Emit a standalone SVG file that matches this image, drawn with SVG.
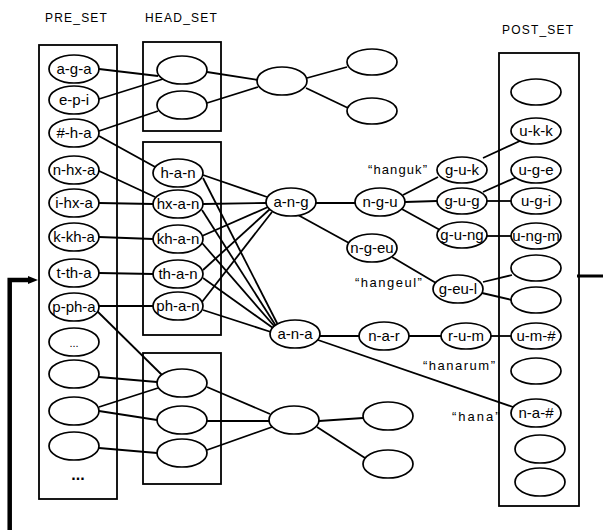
<svg xmlns="http://www.w3.org/2000/svg" width="603" height="530" viewBox="0 0 603 530">
<style>
  .box{fill:none;stroke:#000;stroke-width:1.8}
  .n{fill:#fff;stroke:#000;stroke-width:1.7}
  .c line{stroke:#000;stroke-width:1.8}
  .t{font-family:"Liberation Sans",Arial,sans-serif;font-size:15px;text-anchor:middle;fill:#000}
  .h{font-family:"Liberation Sans",Arial,sans-serif;font-size:12px;letter-spacing:1.2px;fill:#000}
  .q{font-family:"Liberation Sans",Arial,sans-serif;font-size:13px;fill:#000}
</style>
<rect width="603" height="530" fill="#fff"/>
<g id="titles">
  <text class="h" x="45" y="22">PRE_SET</text>
  <text class="h" x="145" y="22">HEAD_SET</text>
  <text class="h" x="502" y="34">POST_SET</text>
</g>
<g id="boxes">
  <rect class="box" x="39" y="45" width="78" height="454"/>
  <rect class="box" x="143" y="42" width="78" height="89"/>
  <rect class="box" x="143" y="142" width="78" height="193"/>
  <rect class="box" x="143" y="353" width="78" height="131"/>
  <rect class="box" x="499" y="53" width="80" height="453"/>
</g>
<g id="connectors" class="c">
  <line x1="99" y1="69" x2="158" y2="76"/>
  <line x1="99" y1="99" x2="163" y2="79"/>
  <line x1="99" y1="131" x2="158" y2="111"/>
  <line x1="99" y1="136" x2="157" y2="168"/>
  <line x1="207" y1="72" x2="258" y2="80"/>
  <line x1="207" y1="103" x2="258" y2="87"/>
  <line x1="307" y1="78" x2="347" y2="67"/>
  <line x1="306" y1="88" x2="348" y2="108"/>
  <line x1="97" y1="170" x2="155" y2="197"/>
  <line x1="99" y1="203" x2="153" y2="204"/>
  <line x1="99" y1="237" x2="153" y2="239"/>
  <line x1="99" y1="273" x2="153" y2="274"/>
  <line x1="99" y1="306" x2="153" y2="306"/>
  <line x1="95" y1="309" x2="162" y2="375"/>
  <line x1="99" y1="377" x2="157" y2="382"/>
  <line x1="99" y1="407" x2="158" y2="388"/>
  <line x1="99" y1="411" x2="157" y2="420"/>
  <line x1="99" y1="448" x2="157" y2="453"/>
  <line x1="207" y1="387" x2="270" y2="414"/>
  <line x1="207" y1="421" x2="270" y2="421"/>
  <line x1="207" y1="450" x2="272" y2="427"/>
  <line x1="319" y1="421" x2="363" y2="418"/>
  <line x1="317" y1="427" x2="365" y2="458"/>
  <line x1="203" y1="175" x2="267" y2="197"/>
  <line x1="203" y1="178" x2="278" y2="325"/>
  <line x1="203" y1="204" x2="266" y2="203"/>
  <line x1="202" y1="210" x2="276" y2="326"/>
  <line x1="202" y1="236" x2="268" y2="207"/>
  <line x1="202" y1="243" x2="275" y2="327"/>
  <line x1="203" y1="270" x2="270" y2="209"/>
  <line x1="203" y1="278" x2="273" y2="328"/>
  <line x1="202" y1="302" x2="272" y2="212"/>
  <line x1="203" y1="310" x2="271" y2="332"/>
  <line x1="316" y1="203" x2="355" y2="203"/>
  <line x1="298" y1="215" x2="349" y2="243"/>
  <line x1="403" y1="195" x2="438" y2="177"/>
  <line x1="405" y1="202" x2="437" y2="201"/>
  <line x1="400" y1="208" x2="440" y2="230"/>
  <line x1="483" y1="158" x2="522" y2="140"/>
  <line x1="483" y1="192" x2="517" y2="177"/>
  <line x1="487" y1="201" x2="512" y2="201"/>
  <line x1="487" y1="236" x2="512" y2="236"/>
  <line x1="392" y1="257" x2="436" y2="283"/>
  <line x1="483" y1="282" x2="512" y2="275"/>
  <line x1="482" y1="293" x2="512" y2="300"/>
  <line x1="320" y1="336" x2="359" y2="336"/>
  <line x1="408" y1="336" x2="442" y2="336"/>
  <line x1="491" y1="336" x2="512" y2="336"/>
  <line x1="318" y1="340" x2="513" y2="407"/>
</g>
<g id="feedback">
  <polyline points="9.7,530 9.7,280 30,280" fill="none" stroke="#000" stroke-width="4.5"/>
  <polygon points="28,276 38,280 28,284" fill="#000"/>
  <line x1="577" y1="276" x2="603" y2="276" stroke="#000" stroke-width="3"/>
</g>
<g id="pre-a-g-a"><ellipse class="n" cx="74" cy="69" rx="25" ry="14"/><text class="t" x="74" y="74">a-g-a</text></g>
<g id="pre-e-p-i"><ellipse class="n" cx="74" cy="100" rx="25" ry="14"/><text class="t" x="74" y="105">e-p-i</text></g>
<g id="pre-h-a"><ellipse class="n" cx="74" cy="133" rx="25" ry="14"/><text class="t" x="74" y="138">#-h-a</text></g>
<g id="pre-n-hx-a"><ellipse class="n" cx="74" cy="170" rx="25" ry="14"/><text class="t" x="74" y="175">n-hx-a</text></g>
<g id="pre-i-hx-a"><ellipse class="n" cx="74" cy="203" rx="25" ry="14"/><text class="t" x="74" y="208">i-hx-a</text></g>
<g id="pre-k-kh-a"><ellipse class="n" cx="74" cy="237" rx="25" ry="14"/><text class="t" x="74" y="242">k-kh-a</text></g>
<g id="pre-t-th-a"><ellipse class="n" cx="74" cy="273" rx="25" ry="14"/><text class="t" x="74" y="278">t-th-a</text></g>
<g id="pre-p-ph-a"><ellipse class="n" cx="74" cy="307" rx="25" ry="14"/><text class="t" x="74" y="312">p-ph-a</text></g>
<g id="pre-dots"><ellipse class="n" cx="74" cy="342" rx="25" ry="14"/><text class="t" x="74" y="347" style="font-size:11px">...</text></g>
<g id="pre-blank1"><ellipse class="n" cx="74" cy="374" rx="25" ry="14"/></g>
<g id="pre-blank2"><ellipse class="n" cx="74" cy="411" rx="25" ry="14"/></g>
<g id="pre-blank3"><ellipse class="n" cx="74" cy="446" rx="25" ry="14"/></g>
<g id="pre-more"><text class="t" x="78" y="480" style="font-size:16px;font-weight:bold">...</text></g>
<g id="head-top1"><ellipse class="n" cx="182" cy="70" rx="25" ry="14"/></g>
<g id="head-top2"><ellipse class="n" cx="182" cy="105" rx="25" ry="14"/></g>
<g id="head-h-a-n"><ellipse class="n" cx="178" cy="173" rx="25" ry="14"/><text class="t" x="178" y="178">h-a-n</text></g>
<g id="head-hx-a-n"><ellipse class="n" cx="178" cy="204" rx="25" ry="14"/><text class="t" x="178" y="209">hx-a-n</text></g>
<g id="head-kh-a-n"><ellipse class="n" cx="178" cy="239" rx="25" ry="14"/><text class="t" x="178" y="244">kh-a-n</text></g>
<g id="head-th-a-n"><ellipse class="n" cx="178" cy="274" rx="25" ry="14"/><text class="t" x="178" y="279">th-a-n</text></g>
<g id="head-ph-a-n"><ellipse class="n" cx="178" cy="306" rx="25" ry="14"/><text class="t" x="178" y="311">ph-a-n</text></g>
<g id="head-bot1"><ellipse class="n" cx="182" cy="383" rx="25" ry="14"/></g>
<g id="head-bot2"><ellipse class="n" cx="182" cy="420" rx="25" ry="14"/></g>
<g id="head-bot3"><ellipse class="n" cx="182" cy="453" rx="25" ry="14"/></g>
<g id="mid-top"><ellipse class="n" cx="282" cy="81" rx="25" ry="14"/></g>
<g id="mid-top-r1"><ellipse class="n" cx="372" cy="62" rx="25" ry="13"/></g>
<g id="mid-top-r2"><ellipse class="n" cx="372" cy="111" rx="25" ry="13"/></g>
<g id="a-n-g"><ellipse class="n" cx="291" cy="202" rx="25" ry="14"/><text class="t" x="291" y="207">a-n-g</text></g>
<g id="a-n-a"><ellipse class="n" cx="295" cy="334" rx="25" ry="14"/><text class="t" x="295" y="339">a-n-a</text></g>
<g id="mid-bot"><ellipse class="n" cx="294" cy="420" rx="25" ry="14"/></g>
<g id="mid-bot-r1"><ellipse class="n" cx="388" cy="416" rx="25" ry="14"/></g>
<g id="mid-bot-r2"><ellipse class="n" cx="388" cy="464" rx="25" ry="14"/></g>
<g id="n-g-u"><ellipse class="n" cx="380" cy="202" rx="25" ry="14"/><text class="t" x="380" y="207">n-g-u</text></g>
<g id="n-g-eu"><ellipse class="n" cx="372" cy="248" rx="25" ry="14"/><text class="t" x="372" y="253">n-g-eu</text></g>
<g id="n-a-r"><ellipse class="n" cx="384" cy="336" rx="25" ry="14"/><text class="t" x="384" y="341">n-a-r</text></g>
<g id="g-u-k"><ellipse class="n" cx="462" cy="170" rx="25" ry="13"/><text class="t" x="462" y="175">g-u-k</text></g>
<g id="g-u-g"><ellipse class="n" cx="462" cy="201" rx="25" ry="13"/><text class="t" x="462" y="206">g-u-g</text></g>
<g id="g-u-ng"><ellipse class="n" cx="462" cy="235" rx="25" ry="13"/><text class="t" x="462" y="240">g-u-ng</text></g>
<g id="g-eu-l"><ellipse class="n" cx="458" cy="289" rx="25" ry="14"/><text class="t" x="458" y="294">g-eu-l</text></g>
<g id="r-u-m"><ellipse class="n" cx="466" cy="336" rx="25" ry="13"/><text class="t" x="466" y="341">r-u-m</text></g>
<g id="post-blank1"><ellipse class="n" cx="536" cy="92" rx="25" ry="13"/></g>
<g id="post-u-k-k"><ellipse class="n" cx="536" cy="131" rx="25" ry="13"/><text class="t" x="536" y="136">u-k-k</text></g>
<g id="post-u-g-e"><ellipse class="n" cx="536" cy="170" rx="25" ry="13"/><text class="t" x="536" y="175">u-g-e</text></g>
<g id="post-u-g-i"><ellipse class="n" cx="536" cy="201" rx="25" ry="13"/><text class="t" x="536" y="206">u-g-i</text></g>
<g id="post-u-ng-m"><ellipse class="n" cx="536" cy="236" rx="25" ry="13"/><text class="t" x="536" y="241">u-ng-m</text></g>
<g id="post-blank2"><ellipse class="n" cx="536" cy="268" rx="25" ry="13"/></g>
<g id="post-blank3"><ellipse class="n" cx="536" cy="300" rx="25" ry="13"/></g>
<g id="post-u-m-h"><ellipse class="n" cx="536" cy="336" rx="25" ry="13"/><text class="t" x="536" y="341">u-m-#</text></g>
<g id="post-blank4"><ellipse class="n" cx="536" cy="371" rx="25" ry="13"/></g>
<g id="post-n-a-h"><ellipse class="n" cx="536" cy="413" rx="25" ry="14"/><text class="t" x="536" y="418">n-a-#</text></g>
<g id="post-blank5"><ellipse class="n" cx="540" cy="449" rx="25" ry="14"/></g>
<g id="post-blank6"><ellipse class="n" cx="540" cy="482" rx="25" ry="14"/></g>
<g id="labels">
  <text class="q" x="368" y="174" style="letter-spacing:1.1px">“hanguk”</text>
  <text class="q" x="355" y="287" style="letter-spacing:1.5px">“hangeul”</text>
  <text class="q" x="423" y="370" style="letter-spacing:1.5px">“hanarum”</text>
  <text class="q" x="452" y="421" style="letter-spacing:2px">“hana”</text>
</g>
</svg>
